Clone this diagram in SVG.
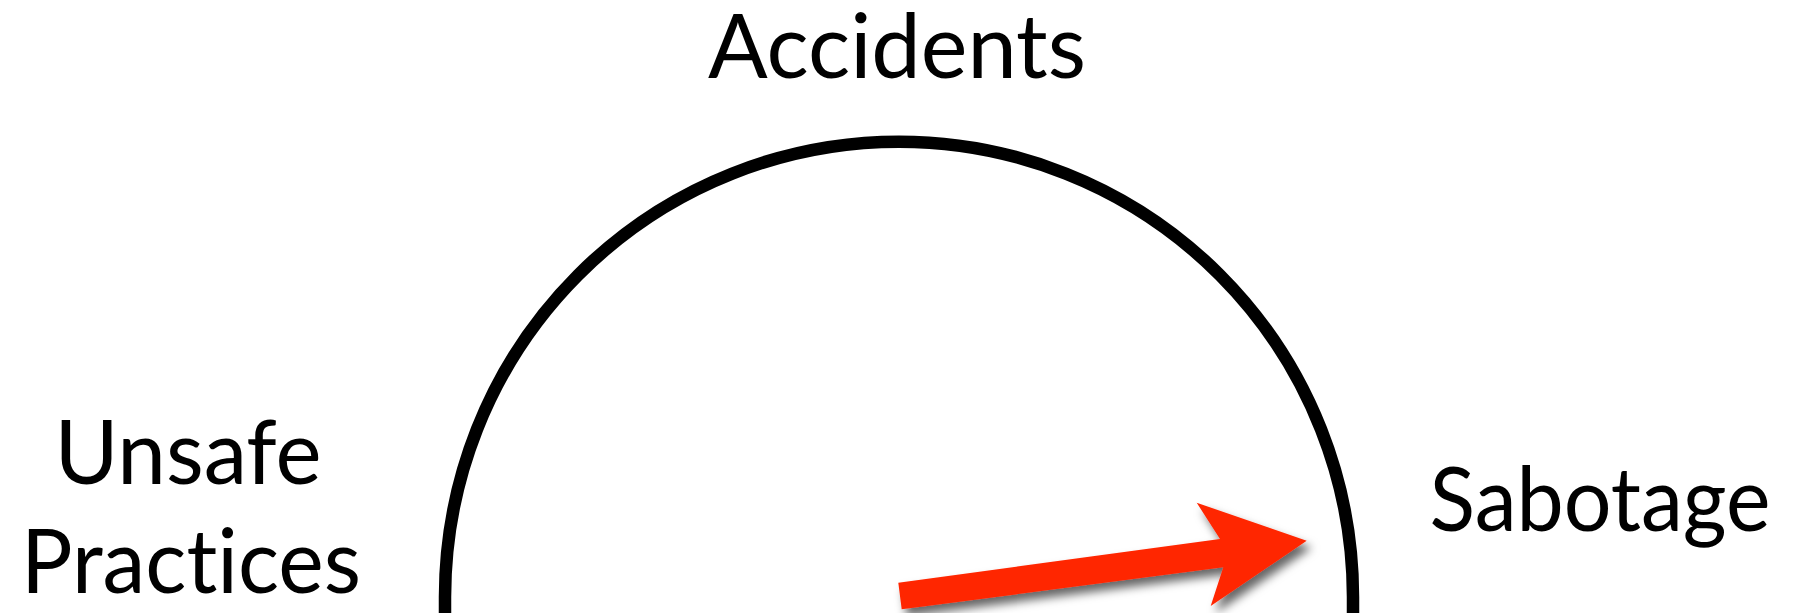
<svg xmlns="http://www.w3.org/2000/svg" width="1796" height="613" viewBox="0 0 1796 613">
<defs>
<style>
.lbl{font-family:Lato,"Open Sans","Liberation Sans",sans-serif;font-size:90px;fill:#000;text-anchor:middle;font-variant-ligatures:none;font-feature-settings:"liga" 0}
.arc{fill:none;stroke:#000;stroke-width:12.5}
</style>
<filter id="sh" x="-20%" y="-50%" width="140%" height="200%">
<feDropShadow dx="5" dy="7" stdDeviation="5" flood-color="#000" flood-opacity="0.6"/>
</filter>
</defs>
<rect width="1796" height="613" fill="#fff"/>
<g id="cycle">
<path class="arc" d="M 445 625 L 445 597 A 454 455.5 0 0 1 1353 597 L 1353 625"/>
</g>
<g id="accidents"><text class="lbl" x="897" y="78" textLength="378" lengthAdjust="spacingAndGlyphs">Accidents</text></g>
<g id="unsafe-practices">
<text class="lbl" x="188" y="484" textLength="267" lengthAdjust="spacingAndGlyphs">Unsafe</text>
<text class="lbl" x="191" y="593" textLength="340" lengthAdjust="spacingAndGlyphs">Practices</text>
</g>
<g id="sabotage"><text class="lbl" x="1600" y="531" textLength="341" lengthAdjust="spacingAndGlyphs">Sabotage</text></g>
<g id="connectors">
<polygon fill="#ff2600" filter="url(#sh)" points="898.3,582.7 1220,539 1196.7,502.7 1306.7,540.7 1210.7,606 1223.3,567.3 901.7,609.3"/>
</g>
</svg>
